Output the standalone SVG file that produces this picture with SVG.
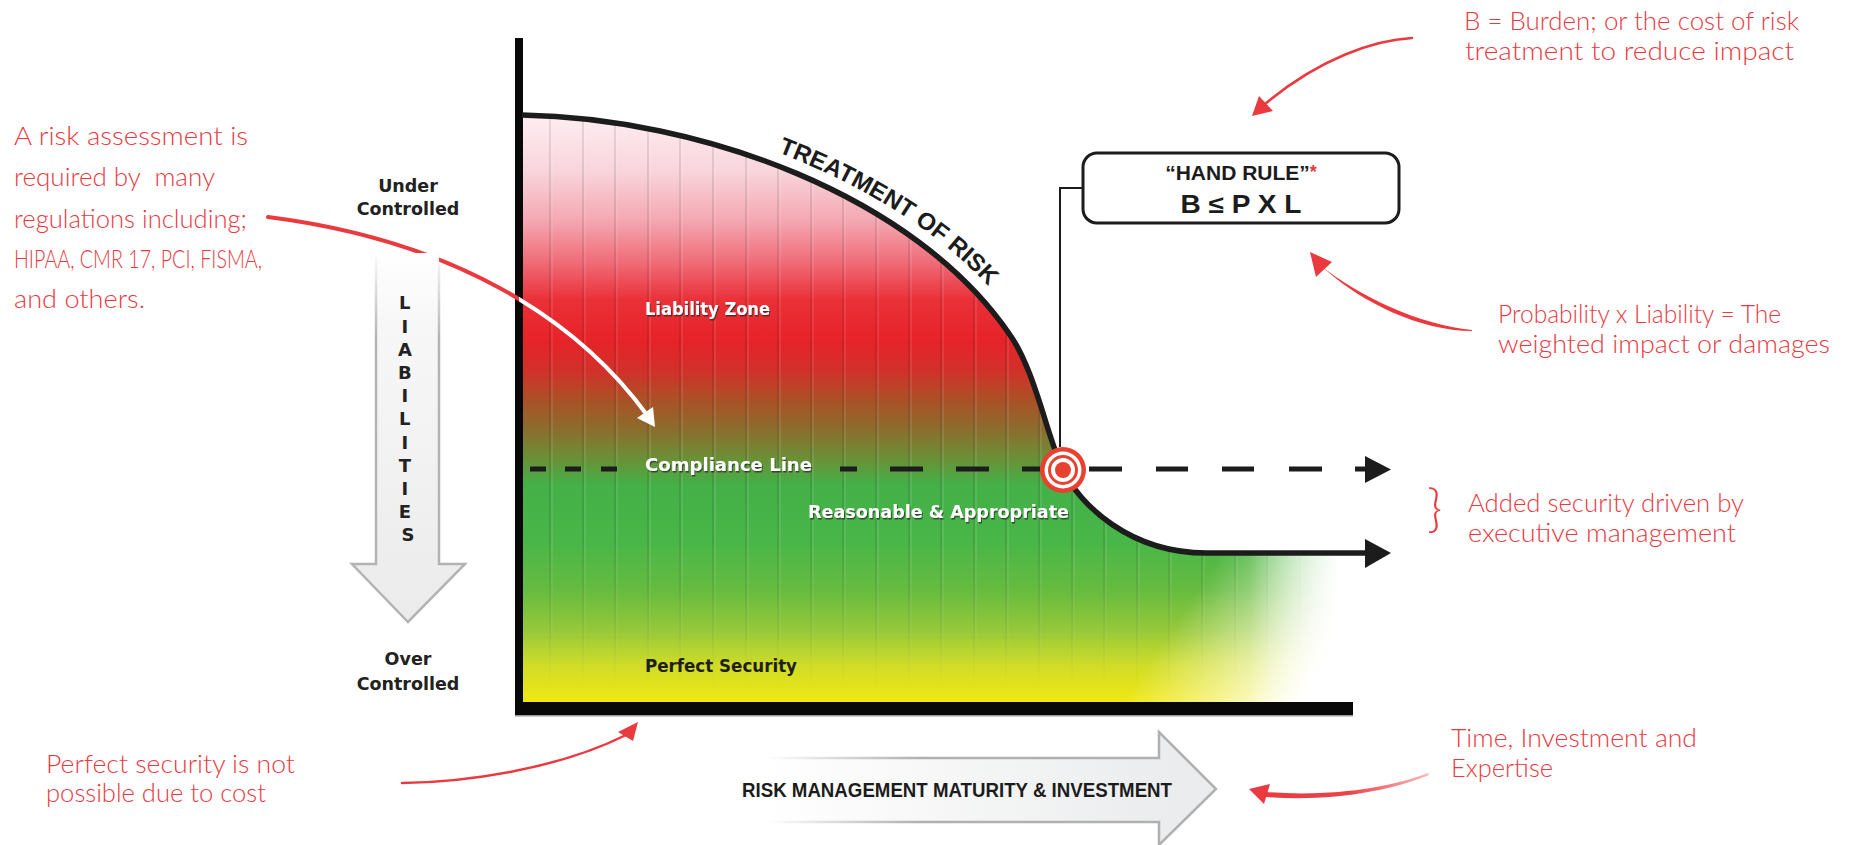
<svg xmlns="http://www.w3.org/2000/svg" width="1849" height="845" viewBox="0 0 1849 845">
  <style>
    .hand { font-family: Lato, "Open Sans", sans-serif; font-weight: 300; font-size: 26px; fill: #ea3a3f; }
    .brace { font-family: Lato, "Open Sans", sans-serif; font-weight: 300; font-size: 52px; fill: #ea3a3f; }
    .side { font-family: "DejaVu Sans", sans-serif; font-weight: bold; font-size: 17.5px; fill: #222; text-anchor: middle; }
    .letters { font-family: "DejaVu Sans", sans-serif; font-weight: bold; font-size: 18px; fill: #222; text-anchor: middle; }
    .zone { font-family: "DejaVu Sans", sans-serif; font-weight: bold; font-size: 18px; fill: #fff; filter: url(#shadow); }
    .zone-dark { font-family: "DejaVu Sans", sans-serif; font-weight: bold; font-size: 18px; fill: #1f1f1f; }
    .head { font-family: "Liberation Sans", Arial, sans-serif; font-weight: bold; fill: #1c1c1c; }
    .red-line { fill: none; stroke: #ea3a3f; stroke-linecap: round; }
    .red-head { fill: #ea3a3f; }
    .ink { fill: #1c1c1c; }
  </style>
  <defs>
    <filter id="shadow" x="-5%" y="-30%" width="115%" height="170%">
      <feDropShadow dx="1" dy="1.5" stdDeviation="0.6" flood-color="#2a2a2a" flood-opacity="0.75"/>
    </filter>
    <!-- vertical colour ramp of the risk field -->
    <linearGradient id="zoneGrad" gradientUnits="userSpaceOnUse" x1="0" y1="115" x2="0" y2="703">
      <stop offset="0" stop-color="#fdeef2"/>
      <stop offset="0.094" stop-color="#f9d5dc"/>
      <stop offset="0.179" stop-color="#f4a8b2"/>
      <stop offset="0.247" stop-color="#ef6f7b"/>
      <stop offset="0.315" stop-color="#ea3038"/>
      <stop offset="0.383" stop-color="#e62328"/>
      <stop offset="0.434" stop-color="#d2302a"/>
      <stop offset="0.485" stop-color="#aa5126"/>
      <stop offset="0.536" stop-color="#8a6e2e"/>
      <stop offset="0.578" stop-color="#6f8c35"/>
      <stop offset="0.629" stop-color="#44b048"/>
      <stop offset="0.723" stop-color="#48b648"/>
      <stop offset="0.808" stop-color="#66bb40"/>
      <stop offset="0.876" stop-color="#96c83a"/>
      <stop offset="0.935" stop-color="#cfdc28"/>
      <stop offset="1" stop-color="#f2e812"/>
    </linearGradient>
    <linearGradient id="fadeDiag" gradientUnits="userSpaceOnUse" x1="1210" y1="570" x2="1335" y2="653">
      <stop offset="0" stop-color="#fff"/>
      <stop offset="1" stop-color="#000"/>
    </linearGradient>
    <linearGradient id="fadeH" gradientUnits="userSpaceOnUse" x1="1250" y1="0" x2="1340" y2="0">
      <stop offset="0" stop-color="#fff"/>
      <stop offset="1" stop-color="#000"/>
    </linearGradient>
    <linearGradient id="stripeFade" gradientUnits="userSpaceOnUse" x1="0" y1="540" x2="0" y2="690">
      <stop offset="0" stop-color="#fff"/>
      <stop offset="1" stop-color="#000"/>
    </linearGradient>
    <mask id="m-diag" maskUnits="userSpaceOnUse" x="500" y="90" width="900" height="630">
      <rect x="500" y="90" width="900" height="630" fill="url(#fadeDiag)"/>
    </mask>
    <mask id="m-h" maskUnits="userSpaceOnUse" x="500" y="90" width="900" height="630">
      <rect x="500" y="90" width="900" height="630" fill="url(#fadeH)"/>
    </mask>
    <mask id="m-stripes" maskUnits="userSpaceOnUse" x="500" y="90" width="900" height="630">
      <rect x="500" y="90" width="900" height="630" fill="url(#stripeFade)"/>
    </mask>
    <clipPath id="fieldClip">
      <path d="M523,115 C700,118 915,195 1010,335 C1035,370 1048,440 1063,470 C1080,505 1130,553 1206,553 L1356,553 L1356,703 L523,703 Z"/>
    </clipPath>
    <clipPath id="leftOfAxis"><rect x="0" y="0" width="519" height="845"/></clipPath>
    <clipPath id="rightOfAxis"><rect x="519" y="0" width="1330" height="845"/></clipPath>
    <!-- baseline for the curved heading, offset outward from the curve -->
    <path id="riskArc" d="M522,101 C700,104 927,187 1021,327"/>
    <!-- side arrows -->
    <linearGradient id="liabFill" gradientUnits="userSpaceOnUse" x1="0" y1="250" x2="0" y2="622">
      <stop offset="0" stop-color="#ffffff"/>
      <stop offset="0.2" stop-color="#f7f7f7"/>
      <stop offset="1" stop-color="#ebebeb"/>
    </linearGradient>
    <linearGradient id="liabStroke" gradientUnits="userSpaceOnUse" x1="0" y1="250" x2="0" y2="340">
      <stop offset="0" stop-color="#b3b3b3" stop-opacity="0"/>
      <stop offset="1" stop-color="#b3b3b3" stop-opacity="1"/>
    </linearGradient>
    <linearGradient id="matFill" gradientUnits="userSpaceOnUse" x1="767" y1="0" x2="1170" y2="0">
      <stop offset="0" stop-color="#ffffff"/>
      <stop offset="1" stop-color="#ebeced"/>
    </linearGradient>
    <linearGradient id="matStroke" gradientUnits="userSpaceOnUse" x1="767" y1="0" x2="920" y2="0">
      <stop offset="0" stop-color="#b0b0b0" stop-opacity="0"/>
      <stop offset="1" stop-color="#b0b0b0" stop-opacity="1"/>
    </linearGradient>
    <!-- brush-stroke fades for the note pointers -->
    <linearGradient id="burdenInk" gradientUnits="userSpaceOnUse" x1="1412" y1="38" x2="1265" y2="104">
      <stop offset="0" stop-color="#ea3a3f" stop-opacity="0.35"/>
      <stop offset="0.5" stop-color="#ea3a3f" stop-opacity="0.85"/>
      <stop offset="1" stop-color="#ea3a3f"/>
    </linearGradient>
    <linearGradient id="timeInk" gradientUnits="userSpaceOnUse" x1="1429" y1="0" x2="1266" y2="0">
      <stop offset="0" stop-color="#ea3a3f" stop-opacity="0.35"/>
      <stop offset="0.5" stop-color="#ea3a3f" stop-opacity="0.95"/>
      <stop offset="1" stop-color="#ea3a3f"/>
    </linearGradient>
    <linearGradient id="costInk" gradientUnits="userSpaceOnUse" x1="402" y1="0" x2="626" y2="0">
      <stop offset="0" stop-color="#ea3a3f"/>
      <stop offset="0.3" stop-color="#ea3a3f" stop-opacity="0.9"/>
      <stop offset="0.5" stop-color="#ea3a3f" stop-opacity="0.4"/>
      <stop offset="0.8" stop-color="#ea3a3f"/>
      <stop offset="1" stop-color="#ea3a3f"/>
    </linearGradient>
  </defs>

  <rect width="1849" height="845" fill="#fff"/>

  <!-- coloured risk field with ribbed texture -->
  <g id="risk-field" mask="url(#m-diag)">
    <g mask="url(#m-h)">
      <path d="M523,115 C700,118 915,195 1010,335 C1035,370 1048,440 1063,470 C1080,505 1130,553 1206,553 L1356,553 L1356,703 L523,703 Z" fill="url(#zoneGrad)"/>
      <g clip-path="url(#fieldClip)">
        <g mask="url(#m-stripes)">
          <g stroke="#000" stroke-opacity="0.15" stroke-width="1.3">
            <path d="M550,100V703M583,100V703M615,100V703M648,100V703M680,100V703M713,100V703M746,100V703M778,100V703M811,100V703M843,100V703M876,100V703M909,100V703M941,100V703M974,100V703M1006,100V703M1039,100V703M1072,100V703M1104,100V703M1137,100V703M1169,100V703M1202,100V703M1235,100V703M1267,100V703M1300,100V703M1332,100V703"/>
          </g>
          <g stroke="#fff" stroke-opacity="0.13" stroke-width="1.5">
            <path d="M552,100V703M585,100V703M617,100V703M650,100V703M682,100V703M715,100V703M748,100V703M780,100V703M813,100V703M845,100V703M878,100V703M911,100V703M943,100V703M976,100V703M1008,100V703M1041,100V703M1074,100V703M1106,100V703M1139,100V703M1171,100V703M1204,100V703M1237,100V703M1269,100V703M1302,100V703M1334,100V703"/>
          </g>
        </g>
      </g>
    </g>
  </g>

  <!-- axes -->
  <g id="axes">
    <rect x="515" y="38" width="8" height="677" fill="#080808"/>
    <rect x="515" y="702" width="838" height="13" fill="#080808"/>
    <rect x="515" y="715" width="838" height="1.5" fill="#9a9a9a"/>
  </g>

  <!-- zone labels -->
  <g id="zone-labels">
    <text class="zone" x="645" y="315" textLength="125" lengthAdjust="spacingAndGlyphs">Liability Zone</text>
    <text class="zone" x="645" y="471" textLength="167" lengthAdjust="spacingAndGlyphs">Compliance Line</text>
    <text class="zone" x="808" y="518" textLength="261" lengthAdjust="spacingAndGlyphs">Reasonable &amp; Appropriate</text>
    <text class="zone-dark" x="645" y="672" textLength="152" lengthAdjust="spacingAndGlyphs">Perfect Security</text>
  </g>

  <g id="connectors">
    <!-- treatment of risk curve -->
    <path id="risk-curve" d="M522,115 C700,118 915,195 1010,335 C1035,370 1048,440 1063,470 C1080,505 1130,553 1206,553 L1367,553" fill="none" stroke="#1c1c1c" stroke-width="5.5"/>
    <polygon class="ink" points="1365,539 1391,553 1365,568"/>
    <!-- compliance line -->
    <path d="M530,469H546M565,469H581M601,469H617M840,469H857M890,469H923M956,469H989M1022,469H1040M1089,469H1122M1156,469H1188M1222,469H1254M1289,469H1322M1355,469H1368" fill="none" stroke="#1c1c1c" stroke-width="5"/>
    <polygon class="ink" points="1365,456 1391,469.5 1365,483"/>
    <!-- hand rule leader -->
    <path d="M1083,188H1060V447" fill="none" stroke="#1c1c1c" stroke-width="2"/>

    <!-- note pointers -->
    <path class="red-line" d="M268,217 C450,240 575,316 647,415" stroke-width="4" clip-path="url(#leftOfAxis)"/>
    <path d="M268,217 C450,240 575,316 647,415" fill="none" stroke="#fff" stroke-width="4" clip-path="url(#rightOfAxis)"/>
    <polygon fill="#fff" points="655,427 637,418 653,407"/>

    <path class="red-line" d="M1412,38 C1375,40 1320,58 1265,104" stroke="url(#burdenInk)" stroke-width="2.5"/>
    <polygon class="red-head" points="1252,116 1259,96 1273,111"/>

    <path class="red-head" d="M1472,330 C1420,325 1358,296 1320,265 L1327,271 C1362,302 1420,331 1472,331 Z"/>
    <polygon class="red-head" points="1310,252 1332,262 1316,277"/>

    <path d="M1428,773 C1390,788 1330,797 1266,792 L1266,797 C1330,802 1391,791 1429,775 Z" fill="url(#timeInk)"/>
    <polygon class="red-head" points="1249,789 1270,784 1264,804"/>

    <path class="red-line" d="M402,783 C470,782 560,768 626,735" stroke="url(#costInk)" stroke-width="2.5"/>
    <polygon class="red-head" points="638,722 618,732 633,741"/>
  </g>

  <!-- curved heading -->
  <g id="treatment-label">
    <text class="head" font-size="24"><textPath href="#riskArc" startOffset="262" textLength="252" lengthAdjust="spacingAndGlyphs">TREATMENT OF RISK</textPath></text>
  </g>

  <!-- compliance target -->
  <g id="target">
    <circle cx="1063" cy="470" r="23" fill="#e8412f"/>
    <circle cx="1063" cy="470" r="18.5" fill="#fff"/>
    <circle cx="1063" cy="470" r="15" fill="#e8412f"/>
    <circle cx="1063" cy="470" r="12" fill="#fff"/>
    <circle cx="1063" cy="470" r="8" fill="#e8412f"/>
  </g>

  <!-- hand rule box -->
  <g id="hand-rule">
    <rect x="1083" y="153" width="316" height="70" rx="14" fill="#fff" stroke="#1c1c1c" stroke-width="3"/>
    <text class="head" x="1241" y="180" font-size="21" text-anchor="middle">“HAND RULE”<tspan fill="#e8383d" font-size="18" dy="-2">*</tspan></text>
    <text class="head" x="1241" y="213" font-size="25" text-anchor="middle" textLength="121" lengthAdjust="spacingAndGlyphs">B ≤ P X L</text>
  </g>

  <!-- liabilities scale -->
  <g id="liabilities">
    <path d="M376,253 V564 H352 L408,622 L465,564 H439 V253 Z" fill="url(#liabFill)"/>
    <path d="M376,253 V564 H352 L408,622 L465,564 H439 V253" fill="none" stroke="url(#liabStroke)" stroke-width="2.5"/>
    <text class="letters">
      <tspan x="408" y="309.4">L</tspan>
      <tspan x="408" y="332.6">I</tspan>
      <tspan x="408" y="355.8">A</tspan>
      <tspan x="408" y="379">B</tspan>
      <tspan x="408" y="402.2">I</tspan>
      <tspan x="408" y="425.4">L</tspan>
      <tspan x="408" y="448.6">I</tspan>
      <tspan x="408" y="471.8">T</tspan>
      <tspan x="408" y="495">I</tspan>
      <tspan x="408" y="518.2">E</tspan>
      <tspan x="408" y="541.4">S</tspan>
    </text>
    <text class="side" x="408" y="192">Under</text>
    <text class="side" x="408" y="215">Controlled</text>
    <text class="side" x="408" y="665">Over</text>
    <text class="side" x="408" y="690">Controlled</text>
  </g>

  <!-- maturity axis arrow -->
  <g id="maturity">
    <path d="M767,758 H1159 V732 L1216,789 L1159,845 V822 H767 Z" fill="url(#matFill)"/>
    <path d="M767,758 H1159 V732 L1216,789 L1159,845 V822 H767" fill="none" stroke="url(#matStroke)" stroke-width="2.5"/>
    <text class="head" x="742" y="797" font-size="20.5" textLength="430" lengthAdjust="spacingAndGlyphs">RISK MANAGEMENT MATURITY &amp; INVESTMENT</text>
  </g>

  <!-- handwritten notes -->
  <g id="note-regulations">
    <text class="hand" x="14" y="145" textLength="234" lengthAdjust="spacingAndGlyphs">A risk assessment is</text>
    <text class="hand" x="14" y="186" textLength="201" lengthAdjust="spacingAndGlyphs" xml:space="preserve">required by  many</text>
    <text class="hand" x="14" y="228" textLength="233" lengthAdjust="spacingAndGlyphs">regulations including;</text>
    <text class="hand" x="14" y="268" textLength="248" lengthAdjust="spacingAndGlyphs">HIPAA, CMR 17, PCI, FISMA,</text>
    <text class="hand" x="14" y="308" textLength="131" lengthAdjust="spacingAndGlyphs">and others.</text>
  </g>
  <g id="note-burden">
    <text class="hand" x="1464" y="30" textLength="335" lengthAdjust="spacingAndGlyphs">B = Burden; or the cost of risk</text>
    <text class="hand" x="1465" y="60" textLength="329" lengthAdjust="spacingAndGlyphs">treatment to reduce impact</text>
  </g>
  <g id="note-probability">
    <text class="hand" x="1498" y="323" textLength="283" lengthAdjust="spacingAndGlyphs">Probability x Liability = The</text>
    <text class="hand" x="1498" y="353" textLength="332" lengthAdjust="spacingAndGlyphs">weighted impact or damages</text>
  </g>
  <g id="note-added">
    <text class="brace" x="1427" y="526">}</text>
    <text class="hand" x="1468" y="512" textLength="276" lengthAdjust="spacingAndGlyphs">Added security driven by</text>
    <text class="hand" x="1468" y="542" textLength="268" lengthAdjust="spacingAndGlyphs">executive management</text>
  </g>
  <g id="note-time">
    <text class="hand" x="1451" y="747" textLength="246" lengthAdjust="spacingAndGlyphs">Time, Investment and</text>
    <text class="hand" x="1451" y="777" textLength="102" lengthAdjust="spacingAndGlyphs">Expertise</text>
  </g>
  <g id="note-cost">
    <text class="hand" x="46" y="773" textLength="249" lengthAdjust="spacingAndGlyphs">Perfect security is not</text>
    <text class="hand" x="46" y="802" textLength="220" lengthAdjust="spacingAndGlyphs">possible due to cost</text>
  </g>
</svg>
